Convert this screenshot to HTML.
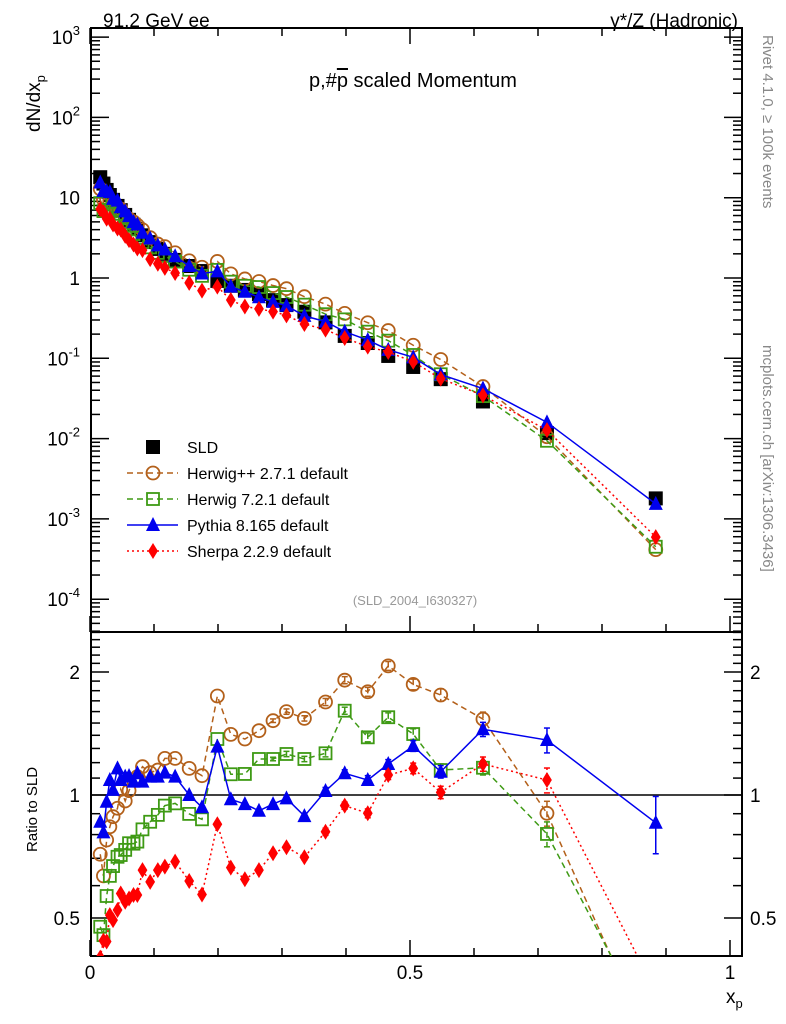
<!DOCTYPE html>
<html><head><meta charset="utf-8"><style>
html,body{margin:0;padding:0;background:#fff;width:786px;height:1024px;overflow:hidden;}
svg{display:block;font-family:"Liberation Sans",sans-serif;}
</style></head><body>
<svg id="c" width="786" height="1024" viewBox="0 0 786 1024" xmlns="http://www.w3.org/2000/svg">
<defs>
<clipPath id="clipTop"><rect x="91" y="28" width="651" height="604"/></clipPath>
<clipPath id="clipBot"><rect x="91" y="632" width="651" height="324"/></clipPath>
</defs>
<text x="103" y="27" font-size="19">91.2 GeV ee</text>
<text x="738" y="27" font-size="19" text-anchor="end">γ*/Z (Hadronic)</text>
<text x="413" y="87" font-size="20" text-anchor="middle">p,#<tspan text-decoration="overline">p</tspan> scaled Momentum</text>
<text transform="translate(763,35) rotate(90)" font-size="15" fill="#888">Rivet 4.1.0, ≥ 100k events</text>
<text transform="translate(763,345) rotate(90)" font-size="15" fill="#888">mcplots.cern.ch [arXiv:1306.3436]</text>
<text x="415" y="605" font-size="13" fill="#999" text-anchor="middle">(SLD_2004_I630327)</text>
<text transform="translate(40,132) rotate(-90)" font-size="19">dN/dx<tspan font-size="13" dy="5">p</tspan></text>
<text transform="translate(37,852) rotate(-90)" font-size="15">Ratio to SLD</text>
<text x="726" y="1003" font-size="19">x<tspan font-size="13" dy="5">p</tspan></text>
<g id="axes"></g>
<g id="marks"></g>
<g id="legend"></g>
</svg>
<script>
// ---- data ----
const xBins = [0.016,0.021,0.026,0.031,0.036,0.043,0.048,0.055,0.061,0.068,0.074,0.082,0.094,0.106,0.117,0.133,0.155,0.175,0.199,0.220,0.242,0.264,0.286,0.307,0.335,0.368,0.398,0.434,0.466,0.505,0.548,0.614,0.714,0.884];
const sldValues = [18,15,12.5,10.8,9.4,7.9,7.0,6.1,5.3,4.6,4.1,3.4,2.8,2.3,2.0,1.68,1.41,1.22,0.92,0.80,0.71,0.63,0.53,0.46,0.38,0.28,0.19,0.155,0.107,0.078,0.055,0.029,0.0117,0.0018];
const herwigppRatio = [0.716,0.634,0.776,0.836,0.885,0.928,1.032,0.967,1.025,1.088,1.109,1.173,1.134,1.151,1.229,1.229,1.162,1.115,1.747,1.407,1.371,1.437,1.52,1.6,1.54,1.689,1.91,1.789,2.07,1.865,1.757,1.534,0.902,0.23];
const herwig7Ratio = [0.476,0.454,0.566,0.634,0.67,0.706,0.713,0.734,0.762,0.76,0.769,0.824,0.86,0.894,0.942,0.954,0.899,0.872,1.371,1.124,1.126,1.225,1.225,1.26,1.225,1.265,1.608,1.384,1.55,1.41,1.151,1.166,0.803,0.25];
const pythiaRatio = [0.86,0.81,0.963,1.088,1.029,1.162,1.088,1.109,1.113,1.078,1.13,1.078,1.109,1.109,1.134,1.109,1.0,0.933,1.313,0.976,0.95,0.915,0.95,0.981,0.888,1.023,1.13,1.088,1.191,1.318,1.14,1.448,1.363,0.855];
const sherpaRatio = [0.40,0.44,0.438,0.508,0.494,0.523,0.574,0.548,0.558,0.569,0.569,0.655,0.613,0.655,0.668,0.687,0.616,0.571,0.848,0.664,0.622,0.655,0.72,0.745,0.704,0.813,0.942,0.902,1.119,1.162,1.015,1.191,1.088,0.33];
const relErr = [0,0,0,0,0,0,0,0,0,0,0,0,0,0,0,0,0,0,0,0,0,0,0.01,0.015,0.015,0.02,0.02,0.025,0.025,0.03,0.035,0.04,0.07,0.16];
const xTickLabels = ["0","0.5","1"];
const yTopLabels = ["10⁻⁴","10⁻³","10⁻²","10⁻¹","1","10","10²","10³"];
const ratioTickLabels = ["0.5","1","2"];

// ---- axes ----
const NS="http://www.w3.org/2000/svg";
const X0=90, XS=640, L=91, R=742, T=28, MID=632, B=956;
const xp = v => X0 + v*XS;
const yTop = v => 278 - 80.3*Math.log10(v);
const yRat = v => 795 - 408.6*Math.log10(v);
function mk(tag, attrs, parent){const e=document.createElementNS(NS,tag);for(const k in attrs)e.setAttribute(k,attrs[k]);parent.appendChild(e);return e;}
const axes=document.getElementById('axes'), marks=document.getElementById('marks'), leg=document.getElementById('legend');

let f1=mk('rect',{x:L,y:T,width:R-L,height:MID-T,fill:'none',stroke:'#000','stroke-width':2},axes);


let f2=mk('rect',{x:L,y:MID,width:R-L,height:B-MID,fill:'none',stroke:'#000','stroke-width':2},axes);



for(let i=0;i<=10;i++){
  const x=xp(i/10), major=(i%5===0), len=major?16:8;
  for(const [yb,dir] of [[MID,-1],[T,1],[B,-1]]){
    mk('line',{x1:x,x2:x,y1:yb,y2:yb+dir*len,stroke:'#000','stroke-width':1.5},axes);
  }
}
xTickLabels.forEach((t,i)=>{
  const e=mk('text',{x:xp(i*0.5),y:979,'font-size':19,'text-anchor':'middle'},axes);e.textContent=t;
  
  
});
for(let d=-5; d<=3; d++){
  for(let m=1;m<10;m++){
    const v=m*Math.pow(10,d), y=yTop(v);
    if(y<T||y>MID) continue;
    const len=m===1?18:9;
    mk('line',{x1:L,x2:L+len,y1:y,y2:y,stroke:'#000','stroke-width':1.5},axes);
    mk('line',{x1:R,x2:R-len,y1:y,y2:y,stroke:'#000','stroke-width':1.5},axes);
  }
}
yTopLabels.forEach((t,i)=>{
  const d=i-4, y=yTop(Math.pow(10,d));
  const e=mk('text',{x:80,y:y+7,'font-size':19,'text-anchor':'end'},axes);
  if(d>=2||d<0){ e.textContent="10"; const s=mk('tspan',{'font-size':13,dy:-9},e); s.textContent=String(d);} else e.textContent=t;
  
  
});
for(let v=0.4; v<=2.55; v+=0.1){
  const vv=Math.round(v*10)/10, y=yRat(vv);
  if(y<MID||y>B) continue;
  const major=(vv===0.5||vv===1||vv===2), len=major?18:9;
  mk('line',{x1:L,x2:L+len,y1:y,y2:y,stroke:'#000','stroke-width':1.5},axes);
  mk('line',{x1:R,x2:R-len,y1:y,y2:y,stroke:'#000','stroke-width':1.5},axes);
}
ratioTickLabels.forEach(t=>{
  const y=yRat(parseFloat(t));
  const a=mk('text',{x:80,y:y+7,'font-size':19,'text-anchor':'end'},axes);a.textContent=t;
  
  
  const b=mk('text',{x:750,y:y+7,'font-size':19},axes);b.textContent=t;
  
  
});
mk('line',{x1:L,x2:R,y1:yRat(1),y2:yRat(1),stroke:'#000','stroke-width':1.5},axes);

function marker(type,x,y,color,parent,s){
  s=s||7;
  if(type==='sq') return mk('rect',{x:x-s,y:y-s,width:2*s,height:2*s,fill:'#000'},parent);
  if(type==='osq') return mk('rect',{x:x-s+1,y:y-s+1,width:2*s-2,height:2*s-2,fill:'none',stroke:color,'stroke-width':1.8},parent);
  if(type==='oc') return mk('circle',{cx:x,cy:y,r:s-0.5,fill:'none',stroke:color,'stroke-width':1.8},parent);
  if(type==='tri') return mk('polygon',{points:`${x},${y-s-1} ${x-s},${y+s-1} ${x+s},${y+s-1}`,fill:color},parent);
  if(type==='dia') return mk('polygon',{points:`${x},${y-s-1} ${x+s*0.7},${y} ${x},${y+s+1} ${x-s*0.7},${y}`,fill:color},parent);
}
const series=[
  {name:'herwigpp',ratio:herwigppRatio,color:'#b3601a',dash:'6,4',m:'oc',label:'Herwig++ 2.7.1 default'},
  {name:'herwig7',ratio:herwig7Ratio,color:'#3e9a14',dash:'6,4',m:'osq',label:'Herwig 7.2.1 default'},
  {name:'pythia',ratio:pythiaRatio,color:'#0000ee',dash:'',m:'tri',label:'Pythia 8.165 default'},
  {name:'sherpa',ratio:sherpaRatio,color:'#ff0000',dash:'2,3',m:'dia',label:'Sherpa 2.2.9 default'}
];
const gTop=mk('g',{'clip-path':'url(#clipTop)'},marks);
const gBot=mk('g',{'clip-path':'url(#clipBot)'},marks);
xBins.forEach((x,i)=>{
  const e=marker('sq',xp(x),yTop(sldValues[i]),'#000',gTop);
  
  
});
series.forEach(s=>{
  const ptsTop=xBins.map((x,i)=>`${xp(x)},${yTop(sldValues[i]*s.ratio[i])}`).join(' ');
  const ptsBot=xBins.map((x,i)=>`${xp(x)},${yRat(s.ratio[i])}`).join(' ');
  const l1=mk('polyline',{points:ptsTop,fill:'none',stroke:s.color,'stroke-width':1.5,'stroke-dasharray':s.dash},gTop);
  
  
  const l2=mk('polyline',{points:ptsBot,fill:'none',stroke:s.color,'stroke-width':1.5,'stroke-dasharray':s.dash},gBot);
  
  
  xBins.forEach((x,i)=>{
    const r=s.ratio[i], ex=xp(x);
    const e1=marker(s.m,ex,yTop(sldValues[i]*r),s.color,gTop);
    
    
    if(relErr[i]>0){
      const y1=yRat(r*(1+relErr[i])), y2=yRat(r*(1-relErr[i]));
      mk('line',{x1:ex,x2:ex,y1:y1,y2:y2,stroke:s.color,'stroke-width':1.5,'stroke-dasharray':s.dash},gBot);
      mk('line',{x1:ex-3,x2:ex+3,y1:y1,y2:y1,stroke:s.color,'stroke-width':1.5},gBot);
      mk('line',{x1:ex-3,x2:ex+3,y1:y2,y2:y2,stroke:s.color,'stroke-width':1.5},gBot);
    }
    const e2=marker(s.m,ex,yRat(r),s.color,gBot);
    
    
  });
});

const rows=[{label:'SLD',m:'sq',color:'#000',dash:null,name:'sld'}].concat(series.map(s=>({label:s.label,m:s.m,color:s.color,dash:s.dash,name:s.name})));
rows.forEach((r,i)=>{
  const y=447+i*26;
  const g=mk('g',{},leg);
  
  
  if(r.dash!==null) mk('line',{x1:127,x2:178,y1:y,y2:y,stroke:r.color,'stroke-width':1.5,'stroke-dasharray':r.dash},g);
  marker(r.m,153,y,r.color,g);
  const t=mk('text',{x:187,y:y+6,'font-size':16},g);t.textContent=r.label;
});
</script>
</body></html>
